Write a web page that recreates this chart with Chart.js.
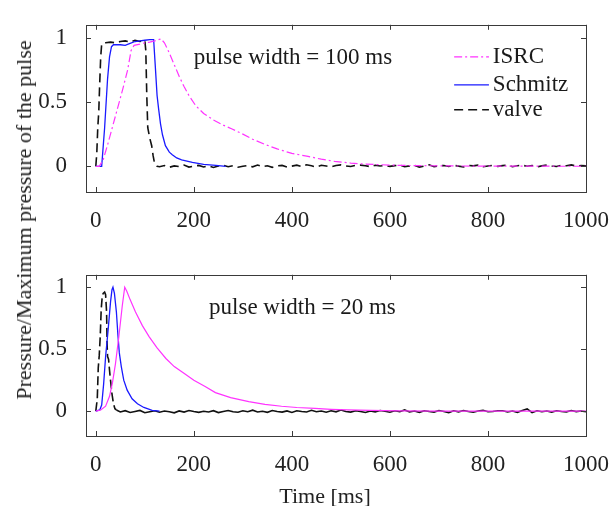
<!DOCTYPE html>
<html>
<head>
<meta charset="utf-8">
<script src="https://cdn.jsdelivr.net/npm/chart.js@4.4.0/dist/chart.umd.min.js"></script>
<style>
  body { margin: 0; background: #fff; width: 616px; height: 506px; overflow: hidden; position: relative;
         font-family: "Liberation Serif", "Times New Roman", serif; color: #222; }
  canvas { position: absolute; left: 0; }
  #topChart { top: 0; }
  #bottomChart { top: 250px; }
  .lbl { position: absolute; font-size: 22px; white-space: nowrap; }
  #ylabel { left: 24px; top: 220px; transform: translate(-50%, -50%) rotate(-90deg); }
  #xlabel { left: 325px; top: 496px; transform: translate(-50%, -50%); }
</style>
</head>
<body>
<canvas id="topChart" width="616" height="250"></canvas>
<canvas id="bottomChart" width="616" height="256"></canvas>
<div class="lbl" id="ylabel">Pressure/Maximum pressure of the pulse</div>
<div class="lbl" id="xlabel">Time [ms]</div>
<script>
const xTicks = [0, 200, 400, 600, 800, 1000];
const yTicks = [0, 0.5, 1];
const seriesNames = ['ISRC', 'Schmitz', 'valve'];

// pulse width = 100 ms
const isrcTopT = [0, 7, 15, 25, 35, 45, 55, 65, 72, 78, 90, 100, 110, 120, 133, 140, 150, 160, 170, 180, 190, 204, 220, 240, 260, 278, 300, 320, 345, 370, 400, 433, 460, 487, 520, 550, 581, 620, 680, 750, 850, 1000];
const isrcTopV = [0, 0, 0.05, 0.18, 0.32, 0.46, 0.6, 0.75, 0.9, 0.94, 0.95, 0.96, 0.965, 0.975, 0.99, 0.96, 0.88, 0.79, 0.70, 0.62, 0.55, 0.47, 0.41, 0.36, 0.32, 0.29, 0.25, 0.21, 0.17, 0.135, 0.10, 0.077, 0.055, 0.038, 0.025, 0.017, 0.012, 0.007, 0.004, 0.002, 0.001, 0];

const schmitzTopT = [0, 12, 18, 24, 28, 32, 36, 50, 60, 70, 80, 90, 100, 110, 118, 121, 125, 128, 132, 136, 142, 150, 156, 165, 175, 197, 220, 245, 265];
const schmitzTopV = [0, 0, 0.3, 0.68, 0.85, 0.93, 0.945, 0.945, 0.94, 0.955, 0.97, 0.975, 0.98, 0.985, 0.985, 0.8, 0.55, 0.45, 0.33, 0.245, 0.16, 0.11, 0.09, 0.065, 0.05, 0.03, 0.015, 0.007, 0];

const valveTopT = [0, 2, 4, 6, 8, 10, 12, 20, 30, 40, 50, 60, 70, 80, 90, 100, 102, 104, 106, 110, 114, 117, 120, 125];
const valveTopV = [0, 0.1, 0.3, 0.42, 0.65, 0.85, 0.95, 0.96, 0.965, 0.96, 0.97, 0.975, 0.965, 0.98, 0.97, 0.98, 0.9, 0.55, 0.3, 0.22, 0.16, 0.08, 0.02, 0];
const valveTopNoiseStart = 130;
const valveTopNoise = [
  -0.004, 0.006, -0.008, 0.003, -0.002, 0.009, -0.006, 0.001, 0.007, -0.005,
  0.004, -0.009, 0.002, 0.008, -0.003, 0.005, -0.007, 0.000, 0.006, -0.004,
  0.010, -0.002, 0.004, -0.008, 0.003, 0.007, -0.005, 0.001, 0.009, -0.003,
  0.012, 0.004, -0.006, 0.008, 0.002, -0.004, 0.006, 0.011, 0.003, -0.002,
  0.007, 0.009, 0.004, -0.003, 0.008, 0.002, 0.006, -0.001, 0.005, 0.010,
  -0.004, 0.003, 0.007, -0.006, 0.002, 0.012, -0.003, 0.004, 0.006, -0.002,
  0.008, 0.001, -0.005, 0.006, 0.003, 0.009, -0.004, 0.002, 0.007, -0.001,
  0.005, 0.010, -0.003, 0.004, 0.008, 0.000, 0.006, -0.005, 0.003, 0.009,
  0.002, -0.002, 0.007, 0.004, 0.011, 0.001, 0.006, 0.003
];

// pulse width = 20 ms
const isrcBotT = [0, 10, 20, 28, 34, 40, 47, 54, 59, 63, 70, 81, 95, 109, 125, 143, 160, 182, 200, 223, 244, 275, 312, 345, 379, 410, 447, 480, 514, 560, 620, 700, 800, 1000];
const isrcBotV = [0, 0.01, 0.04, 0.12, 0.23, 0.38, 0.6, 0.85, 1.0, 0.97, 0.9, 0.80, 0.69, 0.60, 0.51, 0.425, 0.36, 0.30, 0.25, 0.20, 0.15, 0.11, 0.077, 0.055, 0.04, 0.03, 0.022, 0.015, 0.01, 0.006, 0.003, 0.001, 0, 0];

const schmitzBotT = [0, 8, 12, 16, 20, 25, 30, 33, 35, 38, 42, 45, 48, 52, 57, 64, 74, 85, 98, 115, 130];
const schmitzBotV = [0, 0.01, 0.05, 0.22, 0.44, 0.65, 0.88, 0.98, 1.0, 0.95, 0.80, 0.62, 0.47, 0.36, 0.25, 0.17, 0.10, 0.06, 0.03, 0.007, 0];

const valveBotT = [0, 3, 5, 7, 9, 11, 13, 15, 18, 20, 22, 23, 24, 26, 28, 30, 33, 36, 39, 42];
const valveBotV = [0, 0.1, 0.35, 0.45, 0.6, 0.82, 0.92, 0.95, 0.96, 0.94, 0.8, 0.55, 0.44, 0.42, 0.33, 0.25, 0.14, 0.06, 0.02, 0.01];
const valveBotNoiseStart = 50;
const valveBotNoise = [
  -0.006, 0.004, -0.010, -0.002, 0.006, -0.012, -0.004, 0.003, -0.008, 0.001,
  -0.005, -0.013, 0.002, -0.007, 0.005, -0.003, -0.009, 0.000, -0.006, 0.004,
  -0.011, -0.002, 0.006, -0.005, -0.008, 0.003, -0.004, 0.008, -0.006, -0.001,
  -0.009, 0.005, -0.003, -0.007, 0.002, -0.010, 0.004, -0.002, -0.006, 0.007,
  -0.004, 0.001, -0.008, 0.003, -0.005, 0.009, -0.002, -0.007, 0.004, -0.003,
  -0.010, 0.002, -0.005, 0.006, -0.001, -0.008, 0.003, -0.004, 0.010, -0.006,
  0.001, -0.009, 0.004, -0.003, -0.007, 0.005, -0.002, -0.011, 0.003, -0.005,
  0.006, -0.003, -0.008, 0.002, 0.007, -0.004, -0.002, 0.004, 0.004, -0.006,
  0.002, -0.009, 0.005, 0.018, -0.012, 0.003, -0.004, 0.001, -0.007, 0.004,
  -0.002, -0.005, 0.006, -0.003, 0.002, -0.004
];

const FONT = '"Liberation Serif", "Times New Roman", serif';

function pts(ts, vs) {
  return ts.map((t, i) => ({ x: t, y: vs[i] }));
}
function noisePts(start, vals) {
  return vals.map((v, i) => ({ x: start + 10 * i, y: v }));
}

// MATLAB-like box with inward ticks, text notes and an inside legend
const framePlugin = {
  id: 'frame',
  afterDatasetsDraw(chart, args, opts) {
    const { ctx, chartArea: a, scales: { x, y } } = chart;
    ctx.save();
    ctx.strokeStyle = '#3a3a3a';
    ctx.lineWidth = 1;
    ctx.setLineDash([]);
    ctx.strokeRect(Math.round(a.left) + 0.5, Math.round(a.top) + 0.5, Math.round(a.width), Math.round(a.height));
    ctx.beginPath();
    x.ticks.forEach(t => {
      const px = Math.round(x.getPixelForValue(t.value)) + 0.5;
      ctx.moveTo(px, a.bottom); ctx.lineTo(px, a.bottom - 5);
      ctx.moveTo(px, a.top); ctx.lineTo(px, a.top + 5);
    });
    y.ticks.forEach(t => {
      const py = Math.round(y.getPixelForValue(t.value)) + 0.5;
      ctx.moveTo(a.left, py); ctx.lineTo(a.left + 5, py);
      ctx.moveTo(a.right, py); ctx.lineTo(a.right - 5, py);
    });
    ctx.stroke();

    ctx.font = '23px ' + FONT;
    ctx.fillStyle = '#1a1a1a';
    ctx.textBaseline = 'middle';
    (opts.notes || []).forEach(n => {
      ctx.fillText(n.text, x.getPixelForValue(n.t), y.getPixelForValue(n.v));
    });

    if (opts.legend) {
      const L = opts.legend;
      chart.data.datasets.forEach((ds, i) => {
        const py = y.getPixelForValue(L.v[i]);
        ctx.strokeStyle = ds.borderColor;
        ctx.lineWidth = ds.borderWidth;
        ctx.setLineDash(ds.borderDash || []);
        ctx.beginPath();
        ctx.moveTo(x.getPixelForValue(L.t0), py);
        ctx.lineTo(x.getPixelForValue(L.t1), py);
        ctx.stroke();
        ctx.fillText(ds.label, x.getPixelForValue(L.t2), py);
      });
    }
    ctx.restore();
  }
};

function makeOptions(xAxisHeight, padTop, notes, legend) {
  return {
    responsive: false,
    animation: false,
    devicePixelRatio: 1,
    layout: { padding: { top: padTop, right: 26, left: 0, bottom: 0 } },
    elements: { point: { radius: 0 }, line: { tension: 0 } },
    plugins: {
      legend: { display: false },
      tooltip: { enabled: false },
      frame: { notes: notes, legend: legend }
    },
    scales: {
      x: {
        type: 'linear', min: -20, max: 1000,
        grid: { display: false }, border: { display: false },
        afterBuildTicks: s => { s.ticks = xTicks.map(v => ({ value: v })); },
        afterFit: s => { s.height = xAxisHeight; },
        ticks: { color: '#222', padding: 7, maxRotation: 0, font: { family: FONT, size: 23 }, callback: v => String(v) }
      },
      y: {
        type: 'linear', min: -0.2, max: 1.1,
        grid: { display: false }, border: { display: false },
        afterBuildTicks: s => { s.ticks = yTicks.map(v => ({ value: v })); },
        afterFit: s => { s.width = 86; },
        ticks: { color: '#222', padding: 11, font: { family: FONT, size: 23 }, callback: v => String(v) }
      }
    }
  };
}

const topChart = new Chart(document.getElementById('topChart'), {
  type: 'line',
  data: {
    datasets: [
      { label: seriesNames[0], data: pts(isrcTopT, isrcTopV), borderColor: '#ff33ff', borderWidth: 1.2, borderDash: [8, 3, 2, 3] },
      { label: seriesNames[1], data: pts(schmitzTopT, schmitzTopV), borderColor: '#1a1aff', borderWidth: 1.3 },
      { label: seriesNames[2], data: pts(valveTopT, valveTopV).concat(noisePts(valveTopNoiseStart, valveTopNoise)), borderColor: '#111', borderWidth: 1.6, borderDash: [9, 5] }
    ]
  },
  options: makeOptions(58, 12,
    [{ text: 'pulse width = 100 ms', t: 200, v: 0.84 }],
    { t0: 731, t1: 802, t2: 810, v: [0.85, 0.633, 0.44] }),
  plugins: [framePlugin]
});

const bottomChart = new Chart(document.getElementById('bottomChart'), {
  type: 'line',
  data: {
    datasets: [
      { label: seriesNames[0], data: pts(isrcBotT, isrcBotV), borderColor: '#ff33ff', borderWidth: 1.2 },
      { label: seriesNames[1], data: pts(schmitzBotT, schmitzBotV), borderColor: '#1a1aff', borderWidth: 1.3 },
      { label: seriesNames[2], data: pts(valveBotT, valveBotV).concat(noisePts(valveBotNoiseStart, valveBotNoise)), borderColor: '#111', borderWidth: 1.6, borderDash: [9, 4],
        segment: { borderDash: c => (c.p0.parsed.x >= 40 ? [] : undefined) } }
    ]
  },
  options: makeOptions(70, 11,
    [{ text: 'pulse width = 20 ms', t: 231, v: 0.83 }],
    null),
  plugins: [framePlugin]
});
</script>
</body>
</html>
